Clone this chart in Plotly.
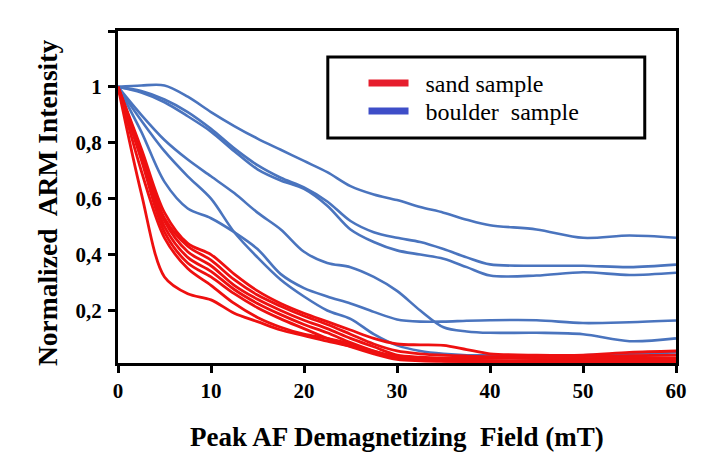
import plotly.graph_objects as go

# Peak AF demagnetizing field (mT)
FIELD_MT = [0, 2.5, 5, 7.5, 10, 12.5, 15, 17.5, 20, 22.5, 25, 27.5, 30, 32.5, 35, 37.5, 40, 45, 50, 55, 60]

# Boulder samples (normalized ARM intensity)
BOULDER_A = [1, 1.005, 1.005, 0.965, 0.91, 0.86, 0.815, 0.775, 0.735, 0.695, 0.645, 0.615, 0.595, 0.57, 0.55, 0.525, 0.505, 0.49, 0.46, 0.468, 0.46]
BOULDER_B = [1, 0.985, 0.955, 0.91, 0.85, 0.78, 0.72, 0.675, 0.64, 0.59, 0.52, 0.48, 0.46, 0.445, 0.42, 0.39, 0.365, 0.36, 0.36, 0.355, 0.364]
BOULDER_C = [1, 0.98, 0.945, 0.895, 0.84, 0.77, 0.705, 0.665, 0.635, 0.575, 0.49, 0.445, 0.415, 0.40, 0.385, 0.355, 0.325, 0.325, 0.337, 0.327, 0.335]
BOULDER_D = [1, 0.9, 0.81, 0.74, 0.68, 0.62, 0.55, 0.49, 0.41, 0.37, 0.355, 0.32, 0.27, 0.2, 0.14, 0.125, 0.12, 0.12, 0.115, 0.09, 0.1]
BOULDER_E = [1, 0.84, 0.66, 0.565, 0.53, 0.48, 0.42, 0.33, 0.28, 0.25, 0.225, 0.195, 0.168, 0.16, 0.16, 0.163, 0.165, 0.165, 0.155, 0.158, 0.164]
BOULDER_F = [1, 0.88, 0.77, 0.68, 0.6, 0.48, 0.39, 0.31, 0.25, 0.2, 0.17, 0.115, 0.075, 0.055, 0.045, 0.04, 0.04, 0.04, 0.04, 0.045, 0.05]

# Sand samples (normalized ARM intensity)
SAND_1 = [1, 0.78, 0.55, 0.44, 0.40, 0.33, 0.27, 0.225, 0.19, 0.16, 0.13, 0.10, 0.08, 0.077, 0.075, 0.06, 0.045, 0.04, 0.04, 0.05, 0.055]
SAND_2 = [1, 0.77, 0.53, 0.43, 0.38, 0.31, 0.255, 0.215, 0.18, 0.15, 0.115, 0.08, 0.055, 0.045, 0.04, 0.037, 0.035, 0.035, 0.035, 0.038, 0.04]
SAND_3 = [1, 0.76, 0.52, 0.41, 0.36, 0.29, 0.24, 0.2, 0.165, 0.135, 0.10, 0.07, 0.04, 0.033, 0.03, 0.03, 0.03, 0.028, 0.028, 0.03, 0.03]
SAND_4 = [1, 0.75, 0.5, 0.39, 0.34, 0.275, 0.225, 0.185, 0.15, 0.12, 0.085, 0.055, 0.03, 0.024, 0.02, 0.02, 0.02, 0.02, 0.022, 0.024, 0.025]
SAND_5 = [1, 0.74, 0.48, 0.37, 0.32, 0.26, 0.21, 0.17, 0.135, 0.10, 0.07, 0.045, 0.025, 0.02, 0.018, 0.018, 0.018, 0.018, 0.02, 0.02, 0.02]
SAND_6 = [1, 0.70, 0.46, 0.35, 0.29, 0.225, 0.175, 0.14, 0.115, 0.1, 0.08, 0.055, 0.035, 0.03, 0.025, 0.022, 0.02, 0.018, 0.015, 0.015, 0.015]
SAND_7 = [1, 0.62, 0.32, 0.26, 0.238, 0.19, 0.16, 0.13, 0.11, 0.09, 0.072, 0.05, 0.035, 0.027, 0.02, 0.017, 0.015, 0.013, 0.012, 0.012, 0.012]

BOULDER = [BOULDER_A, BOULDER_B, BOULDER_C, BOULDER_D, BOULDER_E, BOULDER_F]
SAND = [SAND_1, SAND_2, SAND_3, SAND_4, SAND_5, SAND_6, SAND_7]

X_TICKS = [0, 10, 20, 30, 40, 50, 60]
Y_TICKS = [0.2, 0.4, 0.6, 0.8, 1.0, 1.2]
Y_TICK_TEXT = ["0,2", "0,4", "0,6", "0,8", "1", ""]
LEGEND_NAMES = ["  sand sample", "  boulder  sample"]

RED = "rgb(238,16,16)"
BLUE = "rgb(74,116,190)"
SERIF = "Liberation Serif"

fig = go.Figure()
for s in BOULDER:
    fig.add_trace(go.Scatter(x=FIELD_MT, y=s, mode="lines", showlegend=False,
                             line=dict(color=BLUE, width=2.6, shape="spline", smoothing=0.9)))
for s in SAND:
    fig.add_trace(go.Scatter(x=FIELD_MT, y=s, mode="lines", showlegend=False,
                             line=dict(color=RED, width=2.8, shape="spline", smoothing=0.9)))

# legend entries
fig.add_trace(go.Scatter(x=[None], y=[None], mode="lines", name=LEGEND_NAMES[0],
                         legend="legend",
                         line=dict(color="rgb(230,30,45)", width=7)))
fig.add_trace(go.Scatter(x=[None], y=[None], mode="lines", name=LEGEND_NAMES[1],
                         legend="legend2",
                         line=dict(color="rgb(62,78,200)", width=7)))

leg_common = dict(x=0.44, xanchor="left", yanchor="top",
                  bgcolor="rgba(0,0,0,0)", borderwidth=0, itemwidth=40,
                  font=dict(family=SERIF, size=24, color="black"))

fig.update_layout(
    width=721, height=463,
    margin=dict(l=118, r=45, t=31, b=100),
    paper_bgcolor="white", plot_bgcolor="white",
    showlegend=True,
    font=dict(family=SERIF),
    legend=dict(y=(363 - 61) / 332, **leg_common),
    legend2=dict(y=(363 - 89) / 332, **leg_common),
    shapes=[dict(type="rect", xref="paper", yref="paper",
                 x0=0.376, x1=0.944, y0=0.678, y1=0.922,
                 line=dict(color="black", width=3), fillcolor="rgba(0,0,0,0)")],
    annotations=[
        dict(text="Peak AF Demagnetizing  Field (mT)", xref="paper", yref="paper",
             x=0.5, y=-(437 - 363) / 332, xanchor="center", yanchor="middle",
             showarrow=False, font=dict(family=SERIF, size=27, color="black", weight="bold")),
        dict(text="Normalized  ARM Intensity", xref="paper", yref="paper",
             x=(47 - 118) / 558, y=(363 - 203) / 332, xanchor="center", yanchor="middle",
             textangle=-90, showarrow=False,
             font=dict(family=SERIF, size=27.5, color="black", weight="bold")),
    ],
)

fig.update_xaxes(range=[0, 60], tickvals=X_TICKS, showgrid=False, zeroline=False,
                 showline=True, linecolor="black", linewidth=3, mirror=True,
                 ticks="outside", ticklen=7, tickwidth=3, tickcolor="black",
                 ticklabelstandoff=0,
                 tickfont=dict(family=SERIF, size=21, color="black", weight="bold"))
fig.update_yaxes(range=[0.012, 1.2], tickvals=Y_TICKS, ticktext=Y_TICK_TEXT,
                 showgrid=False, zeroline=False,
                 showline=True, linecolor="black", linewidth=3, mirror=True,
                 ticks="outside", ticklen=7, tickwidth=3, tickcolor="black",
                 ticklabelstandoff=2,
                 tickfont=dict(family=SERIF, size=21, color="black", weight="bold"))

fig.write_html("out.html")
